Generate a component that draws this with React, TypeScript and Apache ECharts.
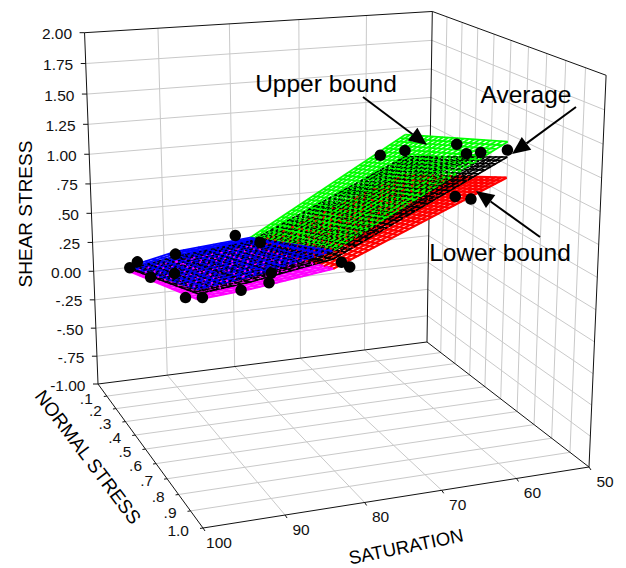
import React, { useEffect, useRef } from "react";
import * as echarts from "echarts";

// ---- data ----
const satTicks = [100, 90, 80, 70, 60, 50];
const stressTicks = [0.1, 0.2, 0.3, 0.4, 0.5, 0.6, 0.7, 0.8, 0.9, 1.0];
const stressLabels = [".1", ".2", ".3", ".4", ".5", ".6", ".7", ".8", ".9", "1.0"];
const shearTicks = [2, 1.75, 1.5, 1.25, 1, 0.75, 0.5, 0.25, 0, -0.25, -0.5, -0.75, -1];
const shearLabels = ["2.00", "1.75", "1.50", "1.25", "1.00", ".75", ".50", ".25", "0.00", "-.25", "-.50", "-.75", "-1.00"];

const surfaceSat = [100, 94, 84, 62.5];
const surfaceStress = [0.4, 1.0];
const upperBound = [[0.39, 0.75], [0.47, 0.8], [0.52, 0.92], [1.24, 1.58]];
const average = [[0.37, 0.72], [0.43, 0.76], [0.49, 0.86], [1.06, 1.47]];
const lowerBound = [[0.35, 0.68], [0.39, 0.71], [0.45, 0.79], [0.91, 1.32]];

// saturation, normal stress, shear stress
const observations = [
  [100, 0.4, 0.38], [99, 0.4, 0.42], [100, 0.6, 0.48], [94, 0.4, 0.45], [97, 0.6, 0.49],
  [100, 0.9, 0.6], [99.5, 1, 0.69], [95, 1, 0.71], [86, 0.4, 0.55], [86, 0.6, 0.66],
  [90, 0.9, 0.64], [88, 0.8, 0.61], [83, 1, 0.83],
  [82, 1, 0.79], [66, 0.4, 1.09], [62.5, 0.4, 1.11], [62, 0.7, 1.36], [63, 0.8, 1.36],
  [63.5, 0.9, 1.44], [62.5, 1, 1.52], [69, 1, 1.22], [67, 1, 1.19],
];

// ---- the 3D view: a projective map from data space to the plane ----
const project = (sat: number, stress: number, shear: number): number[] => {
  const u = (100 - sat) / 50;
  const v = stress;
  const z = (shear + 1) / 3;
  const w = 1 + 0.06635 * u - 0.17552 * v - 0.055 * z;
  return [
    (357.33 * u + 69.37 * v + 98 - 18.1 * z) / w,
    (-19.31 * u + 51.33 * v + 384 - 353.1 * z) / w,
  ];
};

const FONT = '"Liberation Sans", Arial, sans-serif';
const GRID = "#c9c9c9";
const INK = "#111111";
type Seg = [number[], number[]];

const segmentsSeries = (segs: Seg[], color: string, width: number, dash?: number[]) => ({
  type: "custom",
  coordinateSystem: "cartesian2d",
  silent: true,
  clip: false,
  data: [[0, 0]],
  renderItem: (_p: any, api: any) => ({
    type: "group",
    children: segs.map(([a, b]) => {
      const p = api.coord(a);
      const q = api.coord(b);
      return {
        type: "line",
        shape: { x1: p[0], y1: p[1], x2: q[0], y2: q[1] },
        style: { stroke: color, lineWidth: width, lineCap: "butt", lineDash: dash },
      };
    }),
  }),
});

const textSeries = (items: { pos: number[]; text: string; align: string }[]) => ({
  type: "custom",
  coordinateSystem: "cartesian2d",
  silent: true,
  clip: false,
  data: [[0, 0]],
  renderItem: (_p: any, api: any) => ({
    type: "group",
    children: items.map((t) => {
      const p = api.coord(t.pos);
      return {
        type: "text",
        x: p[0],
        y: p[1],
        style: {
          text: t.text,
          fill: INK,
          font: `15.5px ${FONT}`,
          align: t.align,
          verticalAlign: "middle",
        },
      };
    }),
  }),
});

// mesh of one stretch of a surface, between two saturation nodes
const meshPatch = (table: number[][], i: number, nu: number, nv: number): Seg[] => {
  const segs: Seg[] = [];
  const s0 = surfaceSat[i];
  const s1 = surfaceSat[i + 1];
  const [v0, v1] = surfaceStress;
  const at = (a: number, b: number) => {
    const low = table[i][0] + (table[i + 1][0] - table[i][0]) * a;
    const high = table[i][1] + (table[i + 1][1] - table[i][1]) * a;
    return project(s0 + (s1 - s0) * a, v0 + (v1 - v0) * b, low + (high - low) * b);
  };
  for (let k = 0; k <= nu; k++) segs.push([at(k / nu, 0), at(k / nu, 1)]);
  for (let k = 0; k <= nv; k++) segs.push([at(0, k / nv), at(1, k / nv)]);
  return segs;
};

const arrow = (from: number[], tip: number[]) => {
  const dx = tip[0] - from[0];
  const dy = tip[1] - from[1];
  const len = Math.hypot(dx, dy);
  const ux = dx / len;
  const uy = dy / len;
  const hl = 18;
  const hw = 8;
  const bx = tip[0] - ux * hl;
  const by = tip[1] - uy * hl;
  return [
    {
      type: "line",
      shape: { x1: from[0], y1: from[1], x2: bx, y2: by },
      style: { stroke: "#000", lineWidth: 2 },
      silent: true,
      z: 20,
    },
    {
      type: "polygon",
      shape: { points: [tip, [bx - uy * hw, by + ux * hw], [bx + uy * hw, by - ux * hw]] },
      style: { fill: "#000" },
      silent: true,
      z: 20,
    },
  ];
};

const label = (text: string, x: number, y: number, size: number, deg = 0) => ({
  type: "text",
  x,
  y,
  rotation: (deg * Math.PI) / 180,
  silent: true,
  z: 20,
  style: { text, fill: "#000", font: `${size}px ${FONT}`, align: "center", verticalAlign: "middle" },
});

const surfaceSeries = (
  table: number[][], left: string, right: string, width: number,
  scale = 1, dash?: number[],
) => [
  segmentsSeries(meshPatch(table, 2, Math.round(30 * scale), Math.round(20 * scale)), right, width, dash),
  segmentsSeries(meshPatch(table, 1, Math.round(10 * scale), Math.round(20 * scale)), left, width, dash),
  segmentsSeries(meshPatch(table, 0, Math.round(6 * scale), Math.round(20 * scale)), left, width, dash),
];

const buildOption = () => {
  const grid: Seg[] = [];
  const axes: Seg[] = [];
  const top = shearTicks[0];
  const bot = shearTicks[shearTicks.length - 1];
  // back wall and right wall, horizontal lines
  shearTicks.slice(1, -1).forEach((z) => {
    grid.push([project(100, 0, z), project(50, 0, z)]);
    grid.push([project(50, 0, z), project(50, 1, z)]);
  });
  // back wall verticals and floor lines at each saturation
  satTicks.slice(1, -1).forEach((s) => {
    grid.push([project(s, 0, bot), project(s, 0, top)]);
    grid.push([project(s, 0, bot), project(s, 1, bot)]);
  });
  // right wall verticals and floor lines at each stress
  stressTicks.slice(0, -1).forEach((v) => {
    grid.push([project(50, v, bot), project(50, v, top)]);
    grid.push([project(100, v, bot), project(50, v, bot)]);
  });
  // frame
  axes.push([project(100, 0, bot), project(100, 0, top)]);
  axes.push([project(100, 0, top), project(50, 0, top)]);
  axes.push([project(50, 0, bot), project(50, 0, top)]);
  axes.push([project(50, 0, top), project(50, 1, top)]);
  axes.push([project(50, 1, bot), project(50, 1, top)]);
  axes.push([project(100, 0, bot), project(50, 0, bot)]);
  axes.push([project(50, 0, bot), project(50, 1, bot)]);
  axes.push([project(100, 1, bot), project(50, 1, bot)]);
  axes.push([project(100, 0, bot), project(100, 1, bot)]);
  // ticks
  shearTicks.forEach((z) => {
    const p = project(100, 0, z);
    axes.push([[p[0] - 5, p[1]], p]);
  });
  stressTicks.forEach((v) => {
    const p = project(100, v, bot);
    axes.push([[p[0] - 3, p[1] + 0.4], p]);
  });
  satTicks.forEach((s) => {
    const p = project(s, 1, bot);
    axes.push([p, [p[0] + 2, p[1] + 3]]);
  });

  const tickTexts = [
    ...shearTicks.map((z, i) => {
      const p = project(100, 0, z);
      return { pos: [p[0] - 12.5, p[1] + 1], text: shearLabels[i], align: "right" };
    }),
    ...stressTicks.map((v, i) => {
      const p = project(100, v, bot);
      return { pos: [p[0] - 14, p[1] + 2], text: stressLabels[i], align: "right" };
    }),
    ...satTicks.map((s) => {
      const p = project(s, 1, bot);
      return { pos: [p[0] + 16, p[1] + 14.5], text: String(s), align: "center" };
    }),
  ];

  return {
    animation: false,
    backgroundColor: "#ffffff",
    grid: { left: 0, right: 0, top: 0, bottom: 0 },
    xAxis: { type: "value", min: 0, max: 626, show: false },
    yAxis: { type: "value", min: 0, max: 568, inverse: true, show: false },
    series: [
      segmentsSeries(grid, GRID, 1),
      segmentsSeries(axes, INK, 1),
      textSeries(tickTexts),
      ...surfaceSeries(lowerBound, "#ff00ff", "#ff0000", 2.2),
      ...surfaceSeries(average, "#000000", "#000000", 1.5),
      ...surfaceSeries(upperBound, "#0000ff", "#00ff00", 1.8),
      // the layers below show through the upper mesh
      ...surfaceSeries(lowerBound, "#ff00ff", "#ff0000", 1.6, 0.5, [2, 7]),
      ...surfaceSeries(average, "#000000", "#000000", 1.3, 0.8, [2.5, 3.5]),
      {
        type: "scatter",
        silent: true,
        symbol: "circle",
        symbolSize: 11.5,
        itemStyle: { color: "#000000", opacity: 1 },
        data: observations.map(([s, v, z]) => project(s, v, z)),
        z: 5,
      },
    ],
    graphic: [
      ...arrow([363, 97], [427, 145]),
      ...arrow([576, 107], [512, 154]),
      ...arrow([540, 237], [476, 191]),
      label("Upper bound", 326, 83, 24.5),
      label("Average", 526, 94, 24.5),
      label("Lower bound", 500, 252, 24.5),
      label("SHEAR STRESS", 25, 214, 19, 90),
      label("NORMAL STRESS", 88, 457, 19, -53),
      label("SATURATION", 406, 546.5, 18.5, 11.6),
    ],
  };
};

export default function App() {
  const ref = useRef<HTMLDivElement>(null);
  useEffect(() => {
    document.body.style.margin = "0";
    const chart = echarts.init(ref.current!, undefined, { renderer: "svg" });
    chart.setOption(buildOption() as any);
    return () => chart.dispose();
  }, []);
  return <div ref={ref} style={{ width: 626, height: 568 }} />;
}
